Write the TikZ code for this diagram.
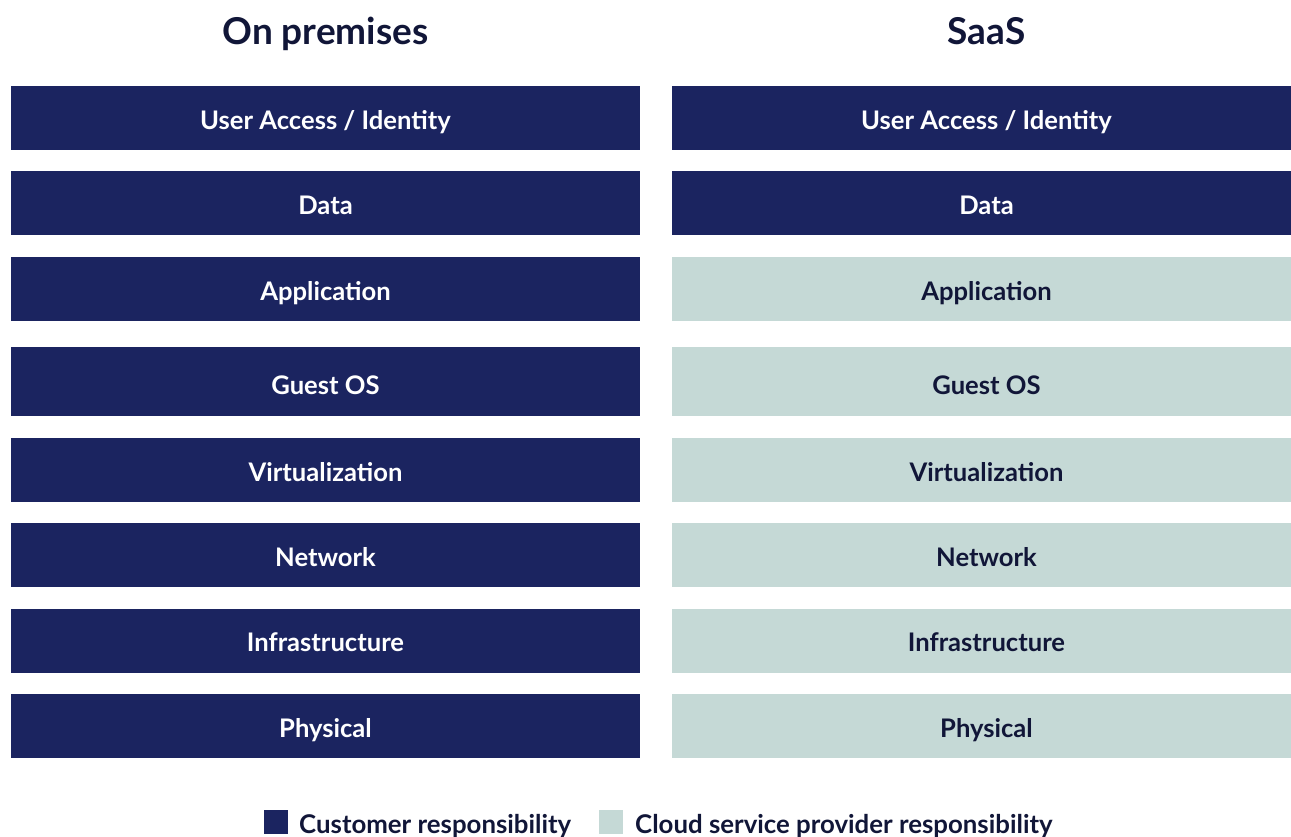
\documentclass[tikz,border=0pt]{standalone}
\usepackage{fontspec}
\setmainfont{Lato}
\definecolor{navy}{RGB}{27,36,96}
\definecolor{mint}{RGB}{197,217,214}
\definecolor{ink}{RGB}{17,22,56}
\begin{document}
\begin{tikzpicture}[x=1pt,y=-1pt,
  cbox/.style={rectangle,inner sep=0pt,minimum width=629pt,text height=25pt,text depth=2.4pt,
    font=\fontsize{25.6}{30}\selectfont\bfseries},
  custbox/.style={cbox,fill=navy,text=white},
  provbox/.style={cbox,fill=mint,text=ink},
  tallbox/.style={minimum height=69pt,text height=27pt,text depth=0.4pt},
  title/.style={anchor=base,text=ink,font=\fontsize{37}{44}\selectfont\bfseries},
  legsq/.style={rectangle,inner sep=0pt,minimum width=24pt,minimum height=24pt},
  legtext/.style={anchor=base west,inner sep=0pt,text=ink,font=\fontsize{25.8}{30}\selectfont\bfseries}]
\useasboundingbox (0,0) rectangle (1291,837);
\node[title] (t1) at (325.5,45) {On premises};
\node[title] (t2) at (986.5,45) {SaaS};
% rows
\node[custbox,minimum height=64pt] (l1) at (325.5,118) {User Access / Identity};
\node[custbox,minimum height=64pt] (l2) at (325.5,203) {Data};
\node[custbox,minimum height=64pt] (l3) at (325.5,289) {Application};
\node[custbox,tallbox] (l4) at (325.5,381.5) {Guest OS};
\node[custbox,minimum height=64pt] (l5) at (325.5,470) {Virtualization};
\node[custbox,minimum height=64pt] (l6) at (325.5,555) {Network};
\node[custbox,minimum height=64pt] (l7) at (325.5,640.5) {Infrastructure};
\node[custbox,minimum height=64pt] (l8) at (325.5,726) {Physical};
\node[custbox,minimum height=64pt] (r1) at (986.5,118) {User Access / Identity};
\node[custbox,minimum height=64pt] (r2) at (986.5,203) {Data};
\node[provbox,minimum height=64pt] (r3) at (986.5,289) {Application};
\node[provbox,tallbox] (r4) at (986.5,381.5) {Guest OS};
\node[provbox,minimum height=64pt] (r5) at (986.5,470) {Virtualization};
\node[provbox,minimum height=64pt] (r6) at (986.5,555) {Network};
\node[provbox,minimum height=64pt] (r7) at (986.5,640.5) {Infrastructure};
\node[provbox,minimum height=64pt] (r8) at (986.5,726) {Physical};
% legend
\node[legsq,fill=navy] (s1) at (276,822) {};
\node[legtext] (k1) at (299,833) {Customer responsibility};
\node[legsq,fill=mint] (s2) at (611,822) {};
\node[legtext] (k2) at (635,833) {Cloud service provider responsibility};
\end{tikzpicture}
\end{document}
